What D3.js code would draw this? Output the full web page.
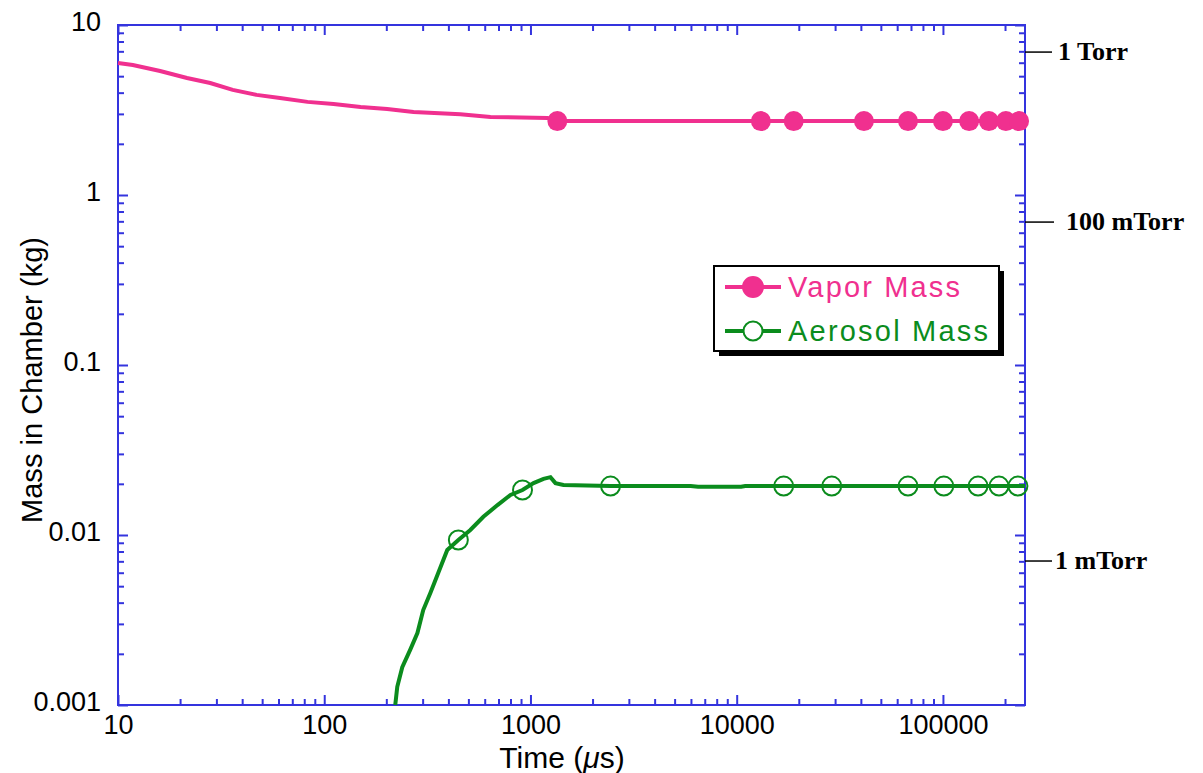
<!DOCTYPE html>
<html>
<head>
<meta charset="utf-8">
<script src="https://cdn.jsdelivr.net/npm/d3@7"></script>
<style>
  body { margin: 0; background: #fff; }
  svg { display: block; }
</style>
</head>
<body>
<div class="chart"></div>
<script>
// vapor mass curve (time in µs, mass in kg)
const vaporTime = [10, 11.8, 16, 21.6, 28, 36, 47, 61, 83, 111, 150, 202, 271, 457, 640, 1210, 1350, 250000]
const vaporMass = [5.97, 5.82, 5.36, 4.88, 4.56, 4.15, 3.88, 3.72, 3.53, 3.43, 3.29, 3.21, 3.08, 2.99, 2.88, 2.84, 2.72, 2.72]
const vaporMarkTime = [1350, 13100, 18900, 41400, 67700, 100000, 134000, 167000, 202000, 234000]
const vaporMarkMass = [2.72, 2.72, 2.72, 2.72, 2.72, 2.72, 2.72, 2.72, 2.72, 2.72]

// aerosol mass curve
const aeroTime = [221, 226, 239, 261, 283, 302, 327, 357, 395, 447, 511, 591, 692, 800, 915, 1035, 1157, 1250, 1322, 1445, 2445, 5980, 6500, 10500, 11000, 250000]
const aeroMass = [0.001, 0.00128, 0.00167, 0.00211, 0.00265, 0.00362, 0.00456, 0.00598, 0.00816, 0.00935, 0.0107, 0.0128, 0.015, 0.0172, 0.0184, 0.0202, 0.0214, 0.0219, 0.0202, 0.0197, 0.0194, 0.0194, 0.0192, 0.0192, 0.0194, 0.0194]
const aeroMarkTime = [447, 915, 2445, 16900, 28900, 67700, 101000, 148000, 187000, 231000]
const aeroMarkMass = [0.00935, 0.0184, 0.0194, 0.0194, 0.0194, 0.0194, 0.0194, 0.0194, 0.0194, 0.0194]

// pressure markers on right side
const pressureLabels = ['1 Torr', '100 mTorr', '1 mTorr']
const pressureMass = [6.93, 0.693, 0.00703]

const xMajor = [10, 100, 1000, 10000, 100000]
const yMajor = [0.001, 0.01, 0.1, 1, 10]
const yLabels = ['0.001', '0.01', '0.1', '1', '10']

const seriesNames = ['Vapor Mass', 'Aerosol Mass']

let w = 1203, h = 773,
    mLeft = 118, mRight = 1025, mTop = 25, mBottom = 705

const pink = '#f0308f', green = '#0b8c1d', blue = '#3434de'

const svg = d3.select('.chart')
              .append('svg')
              .attr('width', w)
              .attr('height', h)

const x = d3.scaleLog().domain([10, 250000]).range([mLeft, mRight])
const y = d3.scaleLog().domain([0.001, 10]).range([mBottom, mTop])

const xMinor = x.ticks().filter(d => !xMajor.includes(d))
const yMinor = y.ticks().filter(d => !yMajor.some(m => Math.abs(m - d) / m < 1e-9))

const font = 'Liberation Sans, Arial, Helvetica, sans-serif'

// frame
svg.append('rect')
   .attr('x', mLeft).attr('y', mTop)
   .attr('width', mRight - mLeft).attr('height', mBottom - mTop)
   .attr('fill', 'none').attr('stroke', blue).attr('stroke-width', 2)

const styleAxis = (g) => {
  g.select('.domain').remove()
  g.selectAll('.tick line').attr('stroke', blue).attr('stroke-width', 2)
  g.selectAll('.tick text').attr('fill', '#000').style('font-family', font).style('font-size', '27px')
}

// bottom axis
svg.append('g').attr('transform', `translate(0,${mBottom})`)
   .call(d3.axisBottom(x).tickValues(xMajor).tickSize(-10).tickPadding(10).tickFormat(d3.format('d')))
   .call(styleAxis)
   .selectAll('.tick text').attr('dy', '0.71em')
svg.append('g').attr('transform', `translate(0,${mBottom})`)
   .call(d3.axisBottom(x).tickValues(xMinor).tickSize(-6).tickFormat(''))
   .call(styleAxis)

// top axis
svg.append('g').attr('transform', `translate(0,${mTop})`)
   .call(d3.axisTop(x).tickValues(xMajor).tickSize(-10).tickFormat(''))
   .call(styleAxis)
svg.append('g').attr('transform', `translate(0,${mTop})`)
   .call(d3.axisTop(x).tickValues(xMinor).tickSize(-6).tickFormat(''))
   .call(styleAxis)

// left axis
svg.append('g').attr('transform', `translate(${mLeft},0)`)
   .call(d3.axisLeft(y).tickValues(yMajor).tickSize(-10).tickPadding(17).tickFormat((d, i) => yLabels[i]))
   .call(styleAxis)
   .selectAll('.tick text').attr('dy', '0.2em')
svg.append('g').attr('transform', `translate(${mLeft},0)`)
   .call(d3.axisLeft(y).tickValues(yMinor).tickSize(-6).tickFormat(''))
   .call(styleAxis)

// right axis
svg.append('g').attr('transform', `translate(${mRight},0)`)
   .call(d3.axisRight(y).tickValues(yMajor).tickSize(-10).tickFormat(''))
   .call(styleAxis)
svg.append('g').attr('transform', `translate(${mRight},0)`)
   .call(d3.axisRight(y).tickValues(yMinor).tickSize(-6).tickFormat(''))
   .call(styleAxis)

// axis titles
const xt = svg.append('text')
   .attr('x', 562).attr('y', 768)
   .attr('text-anchor', 'middle')
   .style('font-family', font).style('font-size', '30px')
xt.append('tspan').text('Time (')
xt.append('tspan').style('font-style', 'italic').text('\u03bc')
xt.append('tspan').text('s)')

svg.append('text')
   .attr('transform', 'translate(42,380) rotate(-90)')
   .attr('text-anchor', 'middle')
   .attr('textLength', 286).attr('lengthAdjust', 'spacing')
   .style('font-family', font).style('font-size', '29px')
   .text('Mass in Chamber (kg)')

// curves
const line = d3.line().x(d => x(d[0])).y(d => y(d[1]))

svg.append('path')
   .datum(vaporTime.map((t, i) => [t, vaporMass[i]]))
   .attr('d', line)
   .attr('fill', 'none').attr('stroke', pink).attr('stroke-width', 4)

svg.append('path')
   .datum(aeroTime.map((t, i) => [t, aeroMass[i]]))
   .attr('d', line)
   .attr('fill', 'none').attr('stroke', green).attr('stroke-width', 4)

svg.selectAll('.vmark')
   .data(vaporMarkTime.map((t, i) => [t, vaporMarkMass[i]]))
   .enter().append('circle')
   .attr('class', 'vmark')
   .attr('cx', d => x(d[0])).attr('cy', d => y(d[1]))
   .attr('r', 10).attr('fill', pink)

svg.selectAll('.amark')
   .data(aeroMarkTime.map((t, i) => [t, aeroMarkMass[i]]))
   .enter().append('circle')
   .attr('class', 'amark')
   .attr('cx', d => x(d[0])).attr('cy', d => y(d[1]))
   .attr('r', 9.5).attr('fill', 'none').attr('stroke', green).attr('stroke-width', 2)

// pressure labels on the right
const pg = svg.selectAll('.press')
   .data(pressureLabels)
   .enter().append('g')
   .attr('class', 'press')
pg.append('line')
  .attr('x1', mRight).attr('x2', (d, i) => [1052, 1054, 1052][i])
  .attr('y1', (d, i) => y(pressureMass[i])).attr('y2', (d, i) => y(pressureMass[i]))
  .attr('stroke', '#000').attr('stroke-width', 1.5)
pg.append('text')
  .attr('x', (d, i) => [1058, 1066, 1055][i])
  .attr('y', (d, i) => y(pressureMass[i]))
  .attr('dy', '0.32em')
  .style('font-family', 'Liberation Serif, Times New Roman, serif')
  .style('font-weight', 'bold').style('font-size', '26px')
  .text(d => d)

// legend
const lg = svg.append('g')
lg.append('rect').attr('x', 719).attr('y', 271).attr('width', 285).attr('height', 85).attr('fill', '#000')
lg.append('rect').attr('x', 714).attr('y', 266).attr('width', 285).attr('height', 85)
  .attr('fill', '#fff').attr('stroke', '#000').attr('stroke-width', 2)

const legendColors = [pink, green]
seriesNames.forEach((name, i) => {
  const ly = 287 + i * 44
  lg.append('line').attr('x1', 725).attr('x2', 781).attr('y1', ly).attr('y2', ly)
    .attr('stroke', legendColors[i]).attr('stroke-width', 4)
  lg.append('circle').attr('cx', 753).attr('cy', ly).attr('r', i === 0 ? 10 : 9.5)
    .attr('fill', i === 0 ? pink : '#fff')
    .attr('stroke', legendColors[i]).attr('stroke-width', 2)
  lg.append('text').attr('x', 788).attr('y', ly + 10)
    .attr('textLength', i === 0 ? 172 : 200).attr('lengthAdjust', 'spacing')
    .attr('fill', legendColors[i])
    .style('font-family', font).style('font-size', '29px')
    .text(name)
})
</script>
</body>
</html>
